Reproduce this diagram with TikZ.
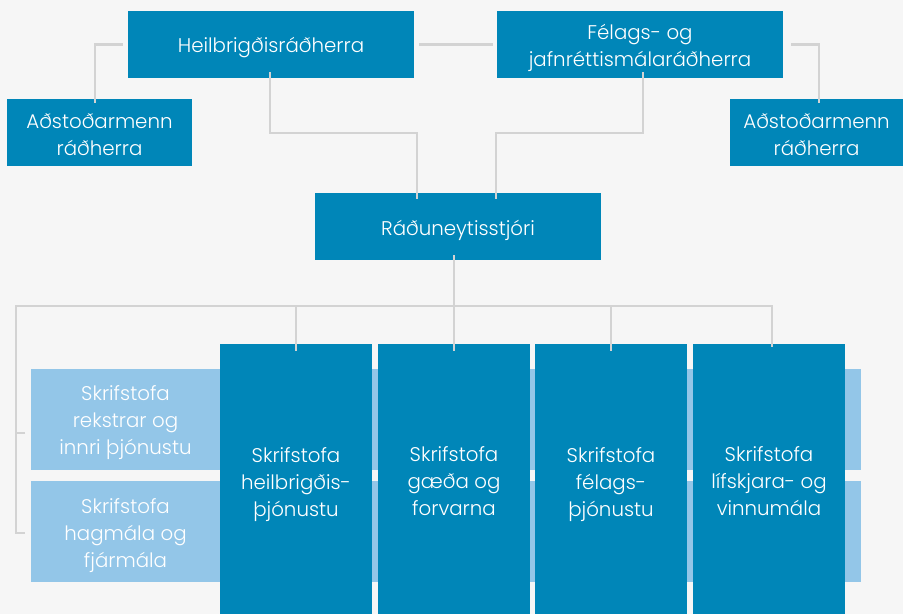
\documentclass[tikz,border=0pt]{standalone}
\usepackage{fontspec}
\setmainfont{Poppins}[UprightFont={* Light}]
\definecolor{bg}{HTML}{F6F6F6}
\definecolor{dark}{HTML}{0086B8}
\definecolor{light}{HTML}{93C6E8}
\definecolor{conn}{HTML}{D3D3D3}
\begin{document}
\begin{tikzpicture}[x=1pt,y=-1pt,
  box/.style={rectangle,fill=dark,inner sep=0pt},
  band/.style={rectangle,fill=light,inner sep=0pt,minimum width=830pt,minimum height=101pt},
  txt/.style={text=white,inner sep=0pt,align=center,font=\fontsize{19.8}{27}\selectfont},
  link/.style={draw=conn,line width=2.2pt}]
\fill[bg] (0,0) rectangle (903,614);
\useasboundingbox (0,0) rectangle (903,614);
% top row
\node[box,minimum width=286pt,minimum height=67pt] (heil) at (271,44.5) {};
\node[box,minimum width=286pt,minimum height=67pt] (fel) at (640,44.5) {};
\node[box,minimum width=185pt,minimum height=67pt] (adl) at (99.5,132.5) {};
\node[box,minimum width=173pt,minimum height=67pt] (adr) at (816.5,132.5) {};
\node[box,minimum width=286pt,minimum height=67pt] (rad) at (458,226.5) {};
\node[txt] (heilt) at ([yshift=-3.5pt]heil.center) {Heilbrigðisráðherra};
\node[txt] (felt) at ([yshift=-3.5pt]fel.center) {Félags- og\\jafnréttismálaráðherra};
\node[txt] (adlt) at ([yshift=-2.5pt]adl.center) {Aðstoðarmenn\\ráðherra};
\node[txt] (adrt) at ([yshift=-2.5pt]adr.center) {Aðstoðarmenn\\ráðherra};
\node[txt] (radt) at ([yshift=-3.5pt]rad.center) {Ráðuneytisstjóri};
% bands
\node[band] (b1) at (446,419.5) {};
\node[band] (b2) at (446,531.5) {};
\node[txt] (t1) at (125.5,423) {Skrifstofa\\rekstrar og\\innri þjónustu};
\node[txt] (t2) at (125.5,536) {Skrifstofa\\hagmála og\\fjármála};
% dark columns
\node[box,minimum width=152pt,minimum height=270pt] (d1) at (296,479) {};
\node[box,minimum width=152pt,minimum height=270pt] (d2) at (454,479) {};
\node[box,minimum width=152pt,minimum height=270pt] (d3) at (611,479) {};
\node[box,minimum width=152pt,minimum height=270pt] (d4) at (769,479) {};
\node[txt] (d1t) at ([yshift=-5.5pt]d1.center) {Skrifstofa\\heilbrigðis-\\þjónustu};
\node[txt] (d2t) at ([yshift=-2pt]d2.center) {Skrifstofa\\gæða og\\forvarna};
\node[txt] (d3t) at ([yshift=-5.5pt]d3.center) {Skrifstofa\\félags-\\þjónustu};
\node[txt] (d4t) at ([yshift=-2pt]d4.center) {Skrifstofa\\lífskjara- og\\vinnumála};
% connectors top
\draw[link] ([xshift=-5pt]heil.west) -- (95,44.5) -- ([yshift=-4pt]adl.north -| 95,0);
\draw[link] ([xshift=5pt]heil.east) -- ([xshift=-4pt]fel.west);
\draw[link] ([xshift=8pt]fel.east) -- (819,44.5) -- ([yshift=-4pt]adr.north -| 819,0);
\draw[link] ([yshift=6pt]heil.south -| 270,0) -- (270,133) -- (417,133) -- ([yshift=-6pt]rad.north -| 417,0);
\draw[link] ([yshift=6pt]fel.south -| 643,0) -- (643,133) -- (496,133) -- ([yshift=-6pt]rad.north -| 496,0);
% connectors bottom
\coordinate (hl) at (16,306);
\coordinate (hr) at (772,306);
\draw[link] ([yshift=5pt]rad.south -| 454,0) -- ([yshift=-7pt]d2.north -| 454,0);
\draw[link] (25,433) -- (16,433) -- (16,533) -- (25,533);
\draw[link] (16,433) -- (hl) -- (hr) -- ([yshift=-3pt]d4.north -| hr);
\draw[link] (296,306) -- ([yshift=-7pt]d1.north);
\draw[link] (611,306) -- ([yshift=-7pt]d3.north);
\end{tikzpicture}
\end{document}
